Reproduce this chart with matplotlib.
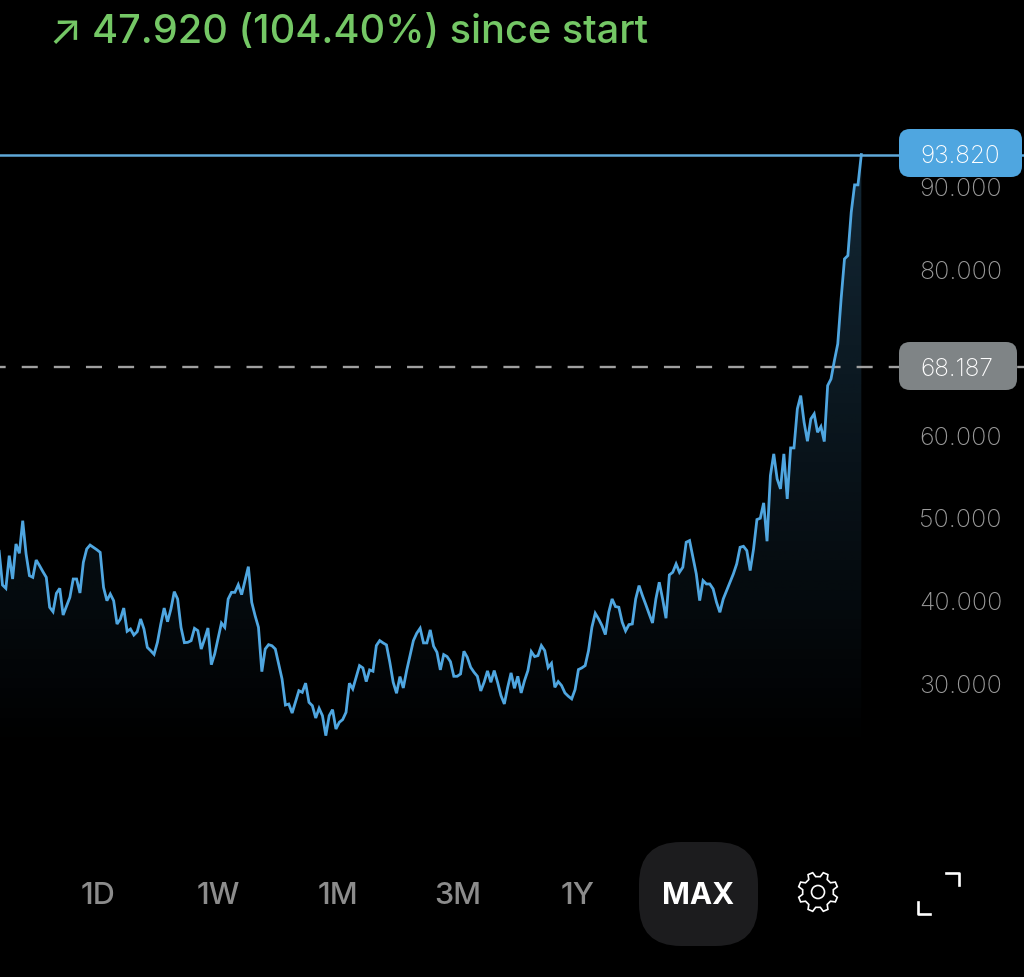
import numpy as np
import matplotlib
matplotlib.use("Agg")
import matplotlib.pyplot as plt
from matplotlib.patches import FancyBboxPatch, Polygon, Circle, PathPatch
from matplotlib.path import Path

plt.rcParams["font.family"] = ["Inter", "DejaVu Sans"]

# price in thousands, one sample per step
prices = [
    45.90, 41.83, 41.43, 45.38, 42.56, 46.79, 45.66, 49.60, 45.58, 42.96, 42.76, 44.85, 44.17, 43.44, 42.76, 39.14,
    38.61, 40.83, 41.43, 38.21, 39.26, 40.34, 42.56, 42.56, 40.87, 44.57, 46.18, 46.66, 46.38, 46.10, 45.78, 41.55,
    39.94, 40.75, 39.94, 37.12, 37.73, 39.05, 36.24, 36.52, 35.79, 36.20, 37.73, 36.52, 34.30, 33.90, 33.46, 34.91,
    37.12, 39.05, 37.40, 38.93, 41.03, 40.14, 36.72, 34.87, 34.91, 35.11, 36.60, 36.32, 34.10, 35.31, 36.64, 32.21,
    33.50, 35.39, 37.24, 36.72, 40.14, 40.95, 40.95, 41.87, 40.67, 42.36, 44.05, 39.74, 38.13, 36.72, 31.37, 34.10,
    34.63, 34.50, 34.10, 32.29, 30.48, 27.34, 27.46, 26.37, 27.74, 29.07, 28.87, 29.98, 27.66, 27.26, 25.77, 26.94,
    26.05, 23.64, 26.05, 26.78, 24.44, 25.25, 25.58, 26.46, 29.97, 29.28, 30.69, 32.10, 31.82, 30.17, 31.58, 31.42,
    34.52, 35.12, 34.84, 34.60, 32.50, 30.09, 28.76, 30.77, 29.40, 31.50, 33.31, 35.12, 36.01, 36.61, 34.84, 34.84,
    36.41, 34.44, 33.71, 31.58, 33.43, 33.19, 32.58, 30.81, 30.81, 31.09, 33.83, 33.11, 31.90, 31.30, 30.81, 29.04,
    30.09, 31.46, 30.09, 31.50, 30.09, 28.48, 27.47, 29.48, 31.22, 29.36, 30.81, 28.80, 30.29, 31.50, 33.79, 33.19,
    33.31, 34.52, 33.91, 31.86, 32.38, 29.48, 30.17, 29.69, 28.80, 28.40, 28.08, 29.20, 31.62, 31.82, 32.10, 33.91,
    36.73, 38.42, 37.74, 36.93, 35.85, 38.54, 40.15, 39.23, 39.15, 37.34, 36.29, 37.05, 37.13, 40.15, 41.76, 40.56,
    39.47, 38.34, 37.25, 40.15, 42.17, 40.15, 37.82, 43.05, 43.37, 44.38, 43.37, 43.98, 47.00, 47.20, 45.18, 43.17,
    39.95, 42.37, 41.96, 41.96, 41.36, 39.75, 38.54, 40.15, 41.16, 42.17, 43.17, 44.38, 46.39, 46.51, 45.99, 43.58,
    46.19, 49.74, 49.90, 51.75, 47.12, 55.05, 57.67, 54.65, 53.44, 57.67, 52.23, 58.39, 58.39, 63.10, 64.71, 61.49,
    59.20, 61.89, 62.50, 60.28, 60.97, 59.16, 65.92, 66.72, 68.94, 70.95, 76.39, 81.22, 81.62, 86.85, 90.16, 90.16,
    93.82,
]
steps = np.arange(len(prices)) - 1

last_price = 93.82
avg_price = 68.187
y_ticks = [30, 40, 50, 60, 80, 90]
ranges = ["1D", "1W", "1M", "3M", "1Y"]
range_x = [98, 218, 338, 458, 578]

BLUE = "#4fa6e0"
GREEN = "#74c765"

fig = plt.figure(figsize=(10.24, 9.78), dpi=100, facecolor="black")
ax = fig.add_axes([0, 0, 1, 1], facecolor="black")

# gradient under the line, cut to the shape of the series
floor = 21
poly = np.column_stack([np.r_[steps, steps[-1], steps[0]], np.r_[prices, floor, floor]])
grad = np.zeros((256, 2, 4))
grad[..., :3] = matplotlib.colors.to_rgb(BLUE)
grad[..., 3] = np.linspace(0.24, 0, 256)[:, None]
im = ax.imshow(grad, extent=(steps[0], steps[-1], floor, last_price), aspect="auto", origin="upper", zorder=1)
im.set_clip_path(PathPatch(Path(poly), transform=ax.transData))
ax.set_xlim(-0.744, 303.3)
ax.set_ylim(-5.51, 112.61)

ax.plot(steps, prices, color=BLUE, lw=2.0, solid_joinstyle="miter", zorder=3)
ax.axhline(last_price, color="#5fa8d8", lw=1.8, zorder=3)
ax.axhline(avg_price, color="#a0a0a0", lw=1.7, linestyle=(4.4, (6.8, 6.8)), zorder=2)

ax.yaxis.tick_right()
ax.set_yticks(y_ticks)
ax.set_yticklabels(["%.3f" % t for t in y_ticks], fontsize=18, color="#9a9a9a", fontweight="light")
ax.tick_params(axis="y", length=0, pad=-75.5)
ax.set_xticks([])
for s in ax.spines.values():
    s.set_visible(False)

# pixel-space layer for the controls and badges
ui = fig.add_axes([0, 0, 1, 1])
ui.set_xlim(0, 1024)
ui.set_ylim(978, 0)
ui.axis("off")
ui.patch.set_alpha(0)


def badge(x0, y0, x1, y1, radius, color):
    ui.add_patch(FancyBboxPatch((x0 + radius, y0 + radius), x1 - x0 - 2 * radius, y1 - y0 - 2 * radius,
                                boxstyle="round,pad=%f,rounding_size=%f" % (radius, radius),
                                fc=color, ec="none"))


badge(899, 130, 1022, 178, 11, BLUE)
badge(899, 343, 1017, 391, 11, "#7f8486")
ui.text(920, 156.5, "%.3f" % last_price, color="white", fontsize=17.6, fontweight="light", va="center")
ui.text(920, 369, "%.3f" % avg_price, color="white", fontsize=17.6, fontweight="light", va="center")

ui.text(48, 32, "↗", color=GREEN, fontsize=31, va="center")
ui.text(92, 33, "47.920 (104.40%) since start", color=GREEN, fontsize=28.6, fontweight="medium", va="center")

badge(639, 843, 758, 947, 42, "#1c1c1e")
for name, x in zip(ranges, range_x):
    ui.text(x, 896, name, color="#8c8c8c", fontsize=22, fontweight="medium", ha="center", va="center")
ui.text(698.5, 896, "MAX", color="white", fontsize=21.5, fontweight="bold", ha="center", va="center")

# gear icon
cx, cy = 818, 893
angles = np.linspace(0, 2 * np.pi, 8, endpoint=False) + np.pi / 8
gear = []
for a in angles:
    w = np.pi / 8
    gear += [(a - w * 0.62, 15.5), (a - w * 0.32, 20), (a + w * 0.32, 20), (a + w * 0.62, 15.5)]
gear = [(cx + r * np.cos(a), cy + r * np.sin(a)) for a, r in gear]
ui.add_patch(Polygon(gear, closed=True, fc="none", ec="white", lw=1.2))
ui.add_patch(Circle((cx, cy), 6.5, fc="none", ec="white", lw=1.2))

# expand icon
ui.plot([946, 959, 959], [874, 874, 886], color="white", lw=1.9)
ui.plot([918, 918, 930], [903, 915, 915], color="white", lw=1.9)

fig.savefig("out.png", dpi=100, facecolor="black")
